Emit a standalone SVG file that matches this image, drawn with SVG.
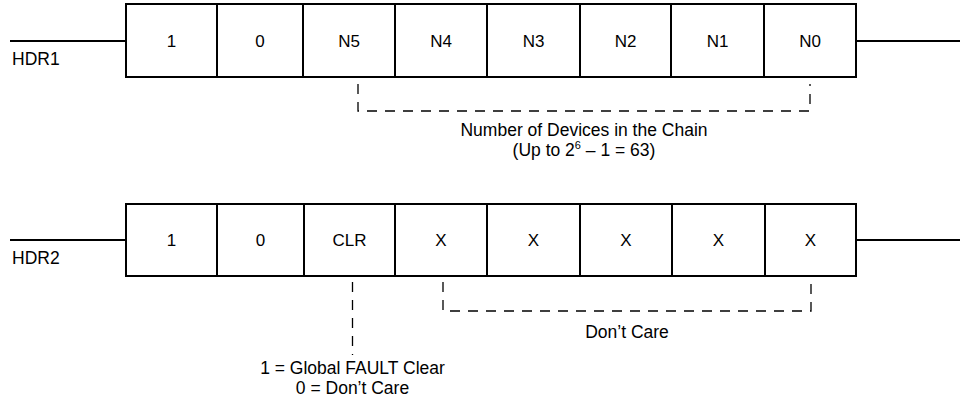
<svg xmlns="http://www.w3.org/2000/svg" width="960" height="404" viewBox="0 0 960 404">
<style>
.box{fill:#fff;stroke:#000;stroke-width:2}
.wire{stroke:#000;stroke-width:2;fill:none}
.dash{stroke:#000;stroke-width:1.3;fill:none;stroke-dasharray:10 8}
text{font-family:"Liberation Sans",Arial,sans-serif;fill:#000}
.cell{font-size:17px;text-anchor:middle}
.lbl{font-size:17.5px}
.note{font-size:17.5px;text-anchor:middle}
</style>
<rect width="960" height="404" fill="#fff"/>
<g id="connectors">
<line class="wire" x1="10" y1="41" x2="126" y2="41"/>
<line class="wire" x1="856" y1="41" x2="960" y2="41"/>
<line class="wire" x1="10" y1="240" x2="126" y2="240"/>
<line class="wire" x1="856" y1="240" x2="960" y2="240"/>
<polyline class="dash" points="358,84 358,111 810,111 810,84"/>
<polyline class="dash" points="443,282 443,311 811,311 811,282"/>
<line class="dash" x1="352.5" y1="282" x2="352.5" y2="355"/>
</g>
<g id="hdr1">
<rect class="box" x="126" y="4" width="730" height="73"/>
<line class="wire" x1="217" y1="4" x2="217" y2="77"/>
<line class="wire" x1="303" y1="4" x2="303" y2="77"/>
<line class="wire" x1="395" y1="4" x2="395" y2="77"/>
<line class="wire" x1="487" y1="4" x2="487" y2="77"/>
<line class="wire" x1="580" y1="4" x2="580" y2="77"/>
<line class="wire" x1="671" y1="4" x2="671" y2="77"/>
<line class="wire" x1="764" y1="4" x2="764" y2="77"/>
<text class="cell" x="171.5" y="47">1</text>
<text class="cell" x="260" y="47">0</text>
<text class="cell" x="349" y="47">N5</text>
<text class="cell" x="441" y="47">N4</text>
<text class="cell" x="533.5" y="47">N3</text>
<text class="cell" x="625.5" y="47">N2</text>
<text class="cell" x="717.5" y="47">N1</text>
<text class="cell" x="810" y="47">N0</text>
<text class="lbl" x="12" y="65">HDR1</text>
</g>
<g id="hdr1-note">
<text class="note" x="584" y="136">Number of Devices in the Chain</text>
<text class="note" x="584" y="156">(Up to 2<tspan font-size="11" dy="-7">6</tspan><tspan dy="7"> – 1 = 63)</tspan></text>
</g>
<g id="hdr2">
<rect class="box" x="126" y="204" width="730" height="72"/>
<line class="wire" x1="217" y1="204" x2="217" y2="276"/>
<line class="wire" x1="304" y1="204" x2="304" y2="276"/>
<line class="wire" x1="395" y1="204" x2="395" y2="276"/>
<line class="wire" x1="487" y1="204" x2="487" y2="276"/>
<line class="wire" x1="580" y1="204" x2="580" y2="276"/>
<line class="wire" x1="672" y1="204" x2="672" y2="276"/>
<line class="wire" x1="765" y1="204" x2="765" y2="276"/>
<text class="cell" x="171.5" y="246">1</text>
<text class="cell" x="260.5" y="246">0</text>
<text class="cell" x="349.5" y="246">CLR</text>
<text class="cell" x="441" y="246">X</text>
<text class="cell" x="533.5" y="246">X</text>
<text class="cell" x="626" y="246">X</text>
<text class="cell" x="718.5" y="246">X</text>
<text class="cell" x="810.5" y="246">X</text>
<text class="lbl" x="12" y="264">HDR2</text>
</g>
<g id="hdr2-notes">
<text class="note" x="627" y="338">Don’t Care</text>
<text class="note" x="352.5" y="374">1 = Global FAULT Clear</text>
<text class="note" x="352.5" y="394">0 = Don’t Care</text>
</g>
</svg>
